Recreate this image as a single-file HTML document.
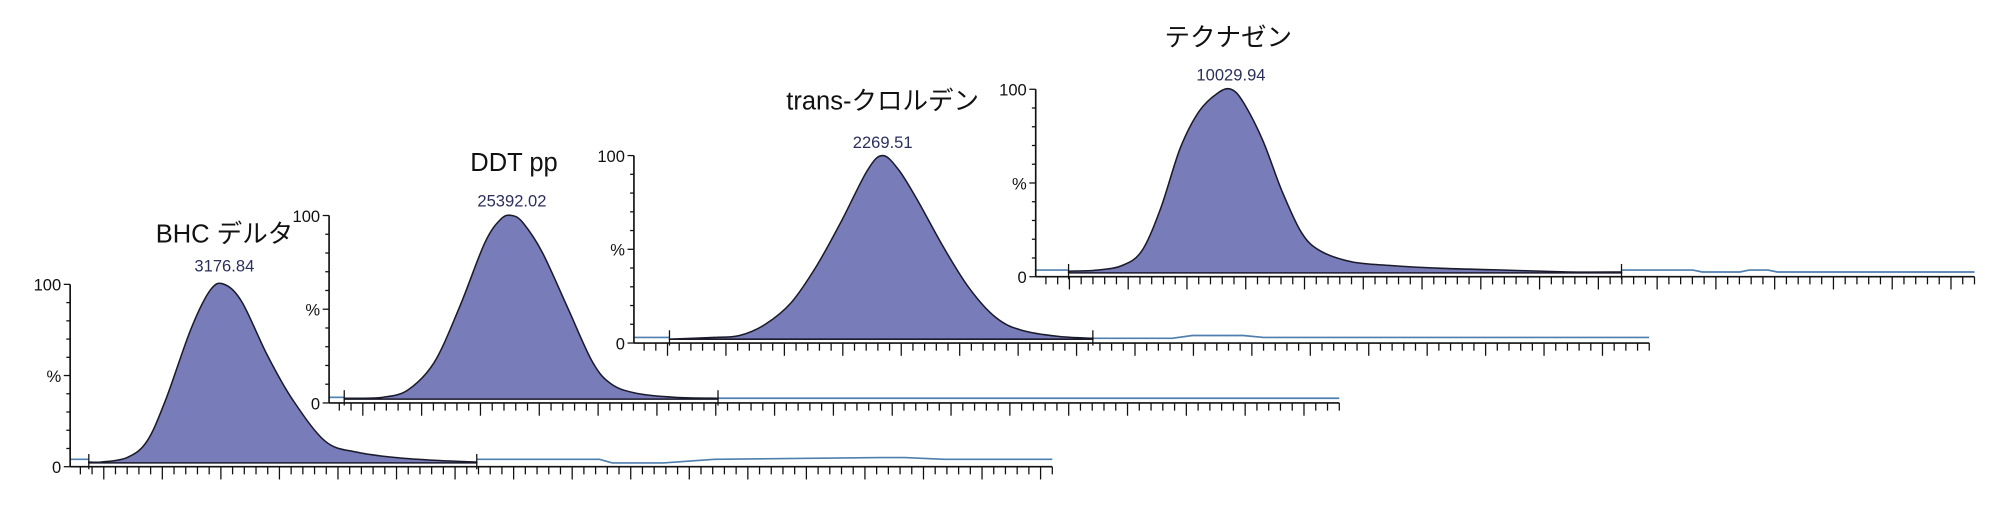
<!DOCTYPE html>
<html>
<head>
<meta charset="utf-8">
<style>
html,body{margin:0;padding:0;background:#fff;}
svg{display:block;}
text{font-family:"Liberation Sans","Noto Sans CJK JP",sans-serif;}
</style>
</head>
<body>
<svg id="chart" width="2000" height="519" viewBox="0 0 1568 407" preserveAspectRatio="none" xmlns="http://www.w3.org/2000/svg"></svg>
<script>
// ---- data (time in % of axis span, intensity in %) ----
const compoundNames = ["BHC デルタ", "DDT pp", "trans-クロルデン", "テクナゼン"];
const peakAreas = ["3176.84", "25392.02", "2269.51", "10029.94"];

const peak1Times = [1.9,3.2,5.8,7.8,9.7,12.3,14.3,15.7,17.5,20.1,22.7,26.0,29.2,33.1,37.0,41.4];
const peak1Vals  = [0.5,0.5,3,12,35,75,97,100,90,60,35,12,6,3,1.5,0.5];
const base1Times = [41.4,53.9,55.2,60.4,65.6,82.5,85.0,89.0,100];
const base1Vals  = [2,2,0,0,2,3,3,2,2];

const peak2Times = [1.5,2.8,5.3,7.8,10.4,12.9,15.4,17.0,18.1,19.2,21.1,23.6,26.1,28.0,30.6,34.3,38.5];
const peak2Vals  = [0.5,0.5,1,5,20,50,85,98,100,96,80,50,20,8,3,1,0.5];
const base2Times = [38.5,60,80,100];
const base2Vals  = [0.5,0.5,0.5,0.5];

const peak3Times = [3.5,7.9,10.4,12.9,15.5,18.0,20.5,23.0,24.5,26.1,28.0,30.5,33.0,35.6,38.1,41.8,45.2];
const peak3Vals  = [0,1,2,8,20,40,65,92,100,92,75,50,28,12,5,1.5,0.5];
const base3Times = [45.2,53,55,60,62,64,100];
const base3Vals  = [0.5,0.5,2,2,1,1,1];

const peak4Times = [3.5,6.5,9.2,11.3,13.3,15.4,17.4,19.4,20.8,22.1,24.2,26.2,28.3,30.3,33.7,37.8,43.2,50.0,56.8,62.4];
const peak4Vals  = [1,1.5,4,12,35,68,88,98,100,93,72,45,22,12,6,4,2.5,1.5,0.5,0.5];
const base4Times = [0,3.5];
const base4Vals  = [1.5,1.5];
const tail4Times = [62.4,70,71,75,76,78,79,100];
const tail4Vals  = [1.5,1.5,0.5,0.5,1.5,1.5,0.5,0.5];

const yTickLabels = ["0","%","100"];

// ---- layout (viewBox units) ----
const panels = [
  {x0:55, x1:825, y0:366, y100:223, title:[176,190], label:213, peakT:peak1Times, peakV:peak1Vals, bT:[base1Times], bV:[base1Vals], preT:[0,1.9], preV:[2,2]},
  {x0:258,x1:1050,y0:316, y100:169, title:[403,134], label:162, peakT:peak2Times, peakV:peak2Vals, bT:[base2Times], bV:[base2Vals], preT:[0,1.5], preV:[1,1]},
  {x0:497,x1:1293,y0:269, y100:122, title:[692,86],  label:116, peakT:peak3Times, peakV:peak3Vals, bT:[base3Times], bV:[base3Vals], preT:[0,3.5], preV:[1,1]},
  {x0:812,x1:1548,y0:217, y100:70,  title:[963,36],  label:63,  peakT:peak4Times, peakV:peak4Vals, bT:[tail4Times], bV:[tail4Vals], preT:base4Times, preV:base4Vals}
];
const NS="http://www.w3.org/2000/svg";
const svg=document.getElementById('chart');
function mk(tag,attrs,parent){const e=document.createElementNS(NS,tag);for(const k in attrs)e.setAttribute(k,attrs[k]);(parent||svg).appendChild(e);return e;}
function smooth(pts){
  let d='';
  for(let i=0;i<pts.length-1;i++){
    const p0=pts[Math.max(0,i-1)],p1=pts[i],p2=pts[i+1],p3=pts[Math.min(pts.length-1,i+2)];
    const c1x=p1[0]+(p2[0]-p0[0])/6,c1y=p1[1]+(p2[1]-p0[1])/6;
    const c2x=p2[0]-(p3[0]-p1[0])/6,c2y=p2[1]-(p3[1]-p1[1])/6;
    d+=' C'+c1x.toFixed(1)+','+c1y.toFixed(1)+' '+c2x.toFixed(1)+','+c2y.toFixed(1)+' '+p2[0].toFixed(1)+','+p2[1].toFixed(1);
  }
  return d;
}

panels.forEach((p,i)=>{
  const g=mk('g',{});
  
  
  const xs=t=>p.x0+(p.x1-p.x0)*t/100;
  const ys=v=>p.y0-(p.y0-p.y100)*v/100;
  const baseY=p.y0-3;
  const ysb=v=>baseY-(baseY-p.y100)*v/100;
  const traces=[[p.preT,p.preV]].concat(p.bT.map((t,k)=>[t,p.bV[k]]));
  traces.forEach(([T,V])=>{
    const d=T.map((t,k)=>(k?'L':'M')+xs(t).toFixed(1)+','+ysb(V[k]).toFixed(1)).join(' ');
    const tr=mk('path',{d:d,fill:'none',stroke:'#4f7fae','stroke-width':1.3},g);
    
    
  });
  const T=p.peakT,V=p.peakV;
  const pts=T.map((t,k)=>[xs(t),ysb(V[k])]);
  let d='M'+xs(T[0]).toFixed(1)+','+ysb(0)+' L'+pts[0][0].toFixed(1)+','+pts[0][1].toFixed(1);
  d+=smooth(pts);
  d+=' L'+xs(T[T.length-1]).toFixed(1)+','+ysb(0)+' Z';
  const pk=mk('path',{d:d,fill:'#787cb9',stroke:'#1a1a2a','stroke-width':1.2,'stroke-linejoin':'round'},g);
  
  
  [T[0],T[T.length-1]].forEach(t=>{
    const m=mk('line',{x1:xs(t),x2:xs(t),y1:baseY-7,y2:baseY+5,stroke:'#111','stroke-width':1},g);
    
    
  });
  const ya=mk('line',{x1:p.x0,x2:p.x0,y1:p.y100,y2:p.y0,stroke:'#111','stroke-width':1.3},g);
  
  
  const xa=mk('line',{x1:p.x0,x2:p.x1,y1:p.y0,y2:p.y0,stroke:'#111','stroke-width':1.3},g);
  
  
  for(let v=0;v<=100;v+=10){
    const L=(v%50===0)?5:3;
    const t=mk('line',{x1:p.x0-L,x2:p.x0,y1:ys(v),y2:ys(v),stroke:'#111','stroke-width':1},g);
    
    
  }
  const n=Math.round((p.x1-p.x0)/9.3);
  for(let k=0;k<=n;k++){
    const x=p.x0+8+(p.x1-p.x0-8)*k/n;
    const L=(k%5===2)?10:6;
    const t=mk('line',{x1:x,x2:x,y1:p.y0,y2:p.y0+L,stroke:'#111','stroke-width':1},g);
    
    
  }
  [[0,p.y0],[50,ys(50)],[100,p.y100]].forEach(([v,y],k)=>{
    const tx=mk('text',{x:p.x0-7,y:y+5,'text-anchor':'end','font-size':13,fill:'#111'},g);
    tx.textContent=yTickLabels[k];
    
    
  });
  const tt=mk('text',{x:p.title[0],y:p.title[1],'text-anchor':'middle','font-size':20,fill:'#111'},g);
  tt.textContent=compoundNames[i];
  
  
  const pkT=T[V.indexOf(Math.max(...V))];
  const lb=mk('text',{x:xs(pkT),y:p.label,'text-anchor':'middle','font-size':13,fill:'#2b2f5c'},g);
  lb.textContent=peakAreas[i];
  
  
});
</script>
</body>
</html>
